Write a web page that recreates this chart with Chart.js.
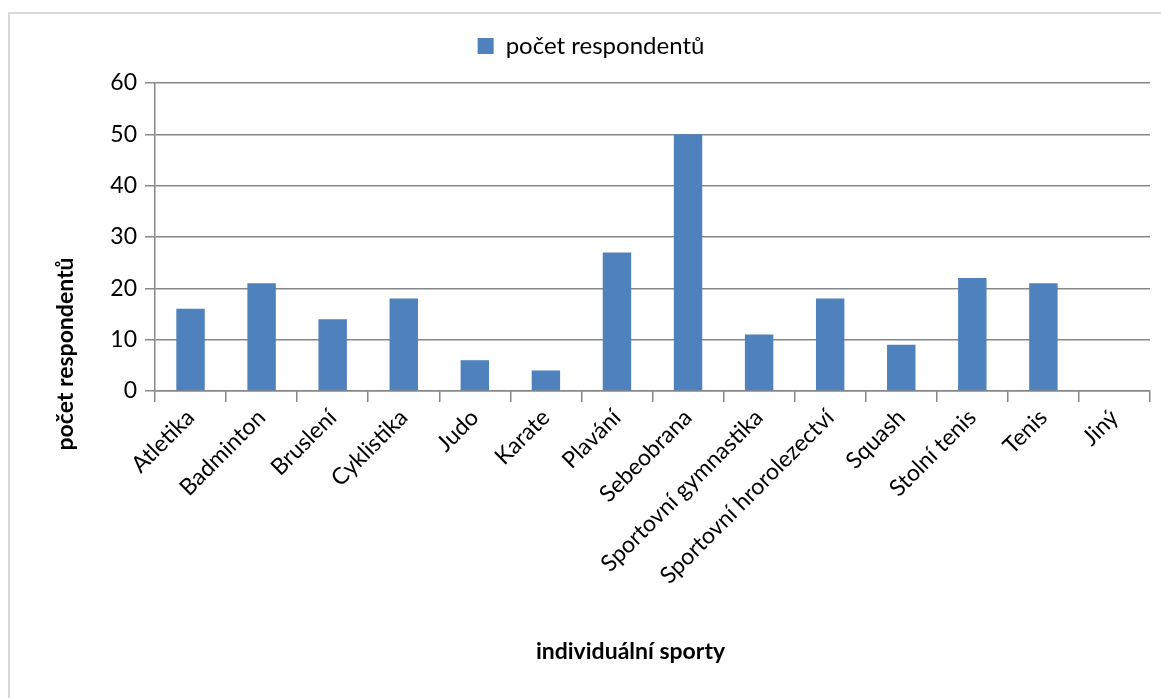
<!DOCTYPE html>
<html>
<head>
<meta charset="utf-8">
<script src="https://cdn.jsdelivr.net/npm/chart.js@4.4.0/dist/chart.umd.min.js"></script>
<style>
    html, body { margin: 0; padding: 0; background: #fff; }
    #wrap { position: relative; width: 1161px; height: 698px; }
</style>
</head>
<body>
<div id="wrap"><canvas id="sportsChart"></canvas></div>
<script>
// Chart data
const sports = [
    'Atletika', 'Badminton', 'Bruslení', 'Cyklistika', 'Judo', 'Karate', 'Plavání',
    'Sebeobrana', 'Sportovní gymnastika', 'Sportovní hrorolezectví', 'Squash',
    'Stolní tenis', 'Tenis', 'Jiný'
];
const respondents = [16, 21, 14, 18, 6, 4, 27, 50, 11, 18, 9, 22, 21, 0];
const seriesLabel = 'počet respondentů';
const xTitle = 'individuální sporty';
const yTitle = 'počet respondentů';
const yMin = 0;
const yMax = 60;
const yStep = 10;

const FONT = 'Lato, "Open Sans", sans-serif';
const AXIS_GRAY = '#878787';

// Light frame around the whole chart, like the Excel chart border
const framePlugin = {
    id: 'frame',
    beforeDraw(chart) {
        const ctx = chart.ctx;
        ctx.save();
        ctx.strokeStyle = '#d9d9d9';
        ctx.lineWidth = 2;
        ctx.strokeRect(9, 13, chart.width + 20, chart.height + 20);
        ctx.restore();
    }
};

// Axis titles centred the Excel way (over plot area + labels)
const axisTitlePlugin = {
    id: 'axisTitles',
    afterDraw(chart) {
        const ctx = chart.ctx;
        const area = chart.chartArea;
        ctx.save();
        ctx.fillStyle = '#000';
        ctx.font = 'bold 23px ' + FONT;
        ctx.textAlign = 'center';
        ctx.textBaseline = 'middle';
        ctx.fillText(xTitle, (area.left + area.right) / 2 - 22, 652);
        ctx.translate(66, (area.top + area.bottom) / 2 + 117);
        ctx.rotate(-Math.PI / 2);
        ctx.fillText(yTitle, 0, 0);
        ctx.restore();
    }
};

function createSportsChart() {
    new Chart(document.getElementById('sportsChart'), {
        type: 'bar',
        data: {
            labels: sports,
            datasets: [{
                label: seriesLabel,
                data: respondents,
                backgroundColor: '#4f81bd',
                borderWidth: 0,
                categoryPercentage: 1,
                barPercentage: 0.4
            }]
        },
        options: {
            responsive: true,
            maintainAspectRatio: false,
            animation: false,
            devicePixelRatio: 1,
            layout: {
                padding: { left: 32, right: 11, top: 10, bottom: 10 }
            },
            plugins: {
                legend: {
                    position: 'top',
                    labels: {
                        boxWidth: 16,
                        boxHeight: 16,
                        color: '#000',
                        font: { family: FONT, size: 24 },
                        padding: 24
                    }
                },
                // empty spacer between legend and plot area
                subtitle: {
                    display: true,
                    text: ' ',
                    position: 'top',
                    weight: 500,
                    font: { size: 10, lineHeight: 1 },
                    padding: { top: 5, bottom: 0 }
                },
                tooltip: { enabled: false }
            },
            scales: {
                x: {
                    afterFit: s => { s.height = 297; },
                    grid: {
                        offset: true,
                        drawOnChartArea: false,
                        drawTicks: true,
                        tickLength: 11,
                        color: AXIS_GRAY,
                        lineWidth: 1.5
                    },
                    border: { color: AXIS_GRAY, width: 1.5 },
                    ticks: {
                        minRotation: 45,
                        maxRotation: 45,
                        autoSkip: false,
                        color: '#000',
                        padding: 2,
                        font: { family: FONT, size: 23 }
                    }
                },
                y: {
                    min: yMin,
                    max: yMax,
                    afterFit: s => { s.width = 123; },
                    grid: {
                        color: AXIS_GRAY,
                        lineWidth: 1.5,
                        tickLength: 10
                    },
                    border: { color: AXIS_GRAY, width: 1.5 },
                    ticks: {
                        stepSize: yStep,
                        color: '#000',
                        padding: 8,
                        font: { family: FONT, size: 23 }
                    }
                }
            }
        },
        plugins: [framePlugin, axisTitlePlugin]
    });
}

document.addEventListener('DOMContentLoaded', createSportsChart);
</script>
</body>
</html>
